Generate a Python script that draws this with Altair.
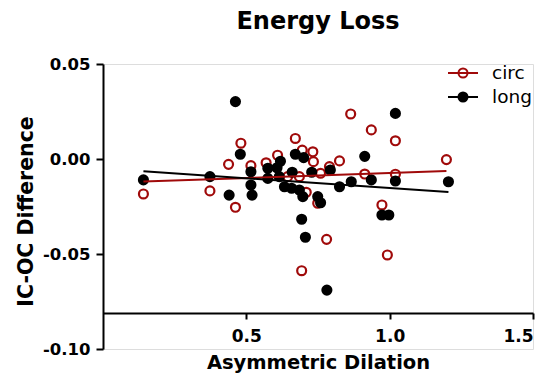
import altair as alt
import pandas as pd

# circ series (open dark-red circles)
circ_x = [0.141, 0.373, 0.438, 0.462, 0.481, 0.516, 0.569, 0.609, 0.644, 0.671,
          0.685, 0.695, 0.709, 0.693, 0.732, 0.734, 0.749, 0.759, 0.780, 0.790,
          0.825, 0.864, 0.913, 0.936, 0.973, 0.992, 1.020, 1.020, 1.198]
circ_y = [-0.0184, -0.0168, -0.0028, -0.0254, 0.0083, -0.0035, -0.0020, 0.0020, -0.0093, 0.0108,
          -0.0093, 0.0047, -0.0175, -0.0588, 0.0038, -0.0014, -0.0233, -0.0075, -0.0423, -0.0040,
          -0.0010, 0.0237, -0.0079, 0.0153, -0.0242, -0.0505, 0.0096, -0.0080, -0.0003]

# long series (filled black circles)
long_x = [0.141, 0.373, 0.440, 0.462, 0.479, 0.516, 0.516, 0.520, 0.575, 0.575,
          0.607, 0.615, 0.619, 0.633, 0.658, 0.660, 0.671, 0.685, 0.693, 0.697,
          0.700, 0.706, 0.728, 0.749, 0.759, 0.781, 0.793, 0.825, 0.866, 0.913,
          0.936, 0.973, 0.997, 1.020, 1.020, 1.205]
long_y = [-0.0110, -0.0093, -0.0190, 0.0302, 0.0025, -0.0067, -0.0137, -0.0190, -0.0049, -0.0102,
          -0.0046, -0.0093, -0.0012, -0.0146, -0.0154, -0.0070, 0.0025, -0.0163, -0.0317, -0.0198,
          0.0007, -0.0412, -0.0070, -0.0198, -0.0230, -0.0690, -0.0058, -0.0146, -0.0120, 0.0014,
          -0.0110, -0.0295, -0.0295, 0.0240, -0.0116, -0.0120]

series_names = ["circ", "long"]
series_colors = ["#A00A0A", "#000000"]
series_fills = ["transparent", "#000000"]

x_ticks = [0.5, 1.0, 1.5]
y_ticks = [0.05, 0.0, -0.05, -0.10]

df = pd.DataFrame(
    {"x": circ_x + long_x,
     "y": circ_y + long_y,
     "series": ["circ"] * len(circ_x) + ["long"] * len(long_x)}
)

FONT = "DejaVu Sans"
sym_path = "M-1.5,0H1.5M0.45,0A0.45,0.45,0,1,1,-0.45,0A0.45,0.45,0,1,1,0.45,0Z"

legend = alt.Legend(
    title=None, orient="none", legendX=349, legendY=-2, padding=0,
    symbolType=sym_path, symbolSize=400, symbolStrokeWidth=2,
    labelFont=FONT, labelFontSize=18.5, labelColor="black", labelOffset=18,
    rowPadding=3,
)

stroke_scale = alt.Scale(domain=series_names, range=series_colors)
fill_scale = alt.Scale(domain=series_names, range=series_fills)

x_enc = alt.X(
    "x:Q",
    scale=alt.Scale(domain=[0, 1.5], nice=False, zero=False),
    axis=alt.Axis(
        title="Asymmetric Dilation", values=x_ticks, format=".1f", offset=-36,
        grid=False, domainColor="black", domainWidth=2, tickColor="black",
        tickWidth=2, tickSize=6, labelFont=FONT, labelFontSize=17,
        labelFontWeight="bold", labelColor="black", labelPadding=9,
        titleFont=FONT, titleFontSize=19.5, titleFontWeight="bold",
        titleColor="black", titlePadding=9,
    ),
)
y_enc = alt.Y(
    "y:Q",
    scale=alt.Scale(domain=[-0.10, 0.05], nice=False, zero=False),
    axis=alt.Axis(
        title="IC-OC Difference", values=y_ticks,
        labelExpr="datum.value < -0.000001 ? '-' + format(-datum.value, '.2f') : format(abs(datum.value), '.2f')",
        grid=False, domainColor="black", domainWidth=2, tickColor="black",
        tickWidth=2, tickSize=7, labelFont=FONT, labelFontSize=16.5,
        labelFontWeight="bold", labelColor="black", labelPadding=6,
        titleFont=FONT, titleFontSize=20.5, titleFontWeight="bold",
        titleColor="black", titleAngle=-90, titleX=-77, titleY=147,
        titleAlign="center", titleBaseline="middle",
    ),
)

points = alt.Chart(df).mark_point(filled=False, size=80, strokeWidth=2.2, opacity=1).encode(
    x=x_enc,
    y=y_enc,
    stroke=alt.Stroke("series:N", scale=stroke_scale, legend=legend),
    fill=alt.Fill("series:N", scale=fill_scale, legend=legend),
)

lines = alt.Chart(df).transform_regression(
    "x", "y", groupby=["series"]
).mark_line(strokeWidth=2).encode(
    x=alt.X("x:Q"),
    y=alt.Y("y:Q"),
    stroke=alt.Stroke("series:N", scale=stroke_scale, legend=None),
)

chart = alt.layer(points, lines).properties(
    width=430,
    height=285,
    padding={"left": 103, "top": 64, "right": 17, "bottom": 35},
    autosize=alt.AutoSizeParams(type="none"),
    title=alt.TitleParams(
        text="Energy Loss", font=FONT, fontSize=24, fontWeight="bold",
        color="black", anchor="middle", frame="group", baseline="alphabetic",
        offset=3,
    ),
).configure_view(stroke=None).configure(background="white")

chart.save("out.html", embed_options={"renderer": "svg", "actions": False})
